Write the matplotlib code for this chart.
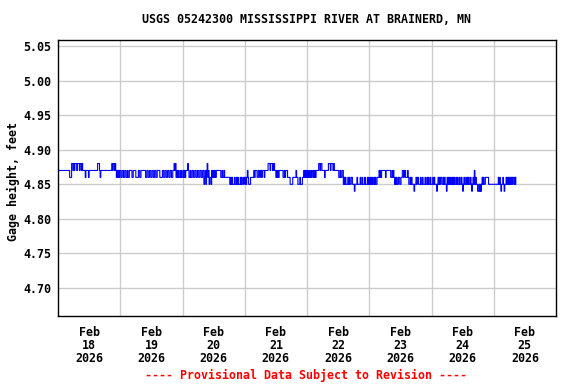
import numpy as np
import matplotlib
matplotlib.use("Agg")
import matplotlib.pyplot as plt

# ---- data: gage height, 15-minute values, hundredths of a foot above 4.80 ----
day1 = ("777777777777777777" "666" "88787888788878878" "7777" "6" "7777" "6"
        "7777777777777" "888" "7" "6" "77777777777777777" "8788787" "676767")
day2 = ("7667766776676677" "7766777766667766" "7777777667766776"
        "6776677667777666" "6776677667766776" "6778786767667676")
day3 = ("676767778" "76676677667766776677667" "756757867566576676"
        "767777777667667" "66666666" "5656555655656555656556" "6")
day4 = ("565676555666" "66767776677677677767777" "788878887887"
        "7676767777776676777" "666655556666" "676655565556676767")
day5 = ("676676" "67767676777" "78878877" "77677777" "888788878" "777777"
        "76676677" "56565" "55656556655" "545" "556555565565556555656")
day6 = ("55656556565566" "6767677777767777777667676" "56565566556"
        "67767766676" "556565554" "55656655565565556556565565")
day7 = ("556565554565656" "6556565546" "5656556565" "6556565565" "5654565565"
        "6565565456" "5" "7" "565544545456565566" "66655555555")
day8 = ("55555556" "565455654556565" "656565665656")

gage_digits = day1 + day2 + day3 + day4 + day5 + day6 + day7 + day8
gage_height = 4.80 + np.array([int(c) for c in gage_digits]) / 100.0
start_time = np.datetime64("2026-02-18T00:00")
times = start_time + np.arange(len(gage_height)) * np.timedelta64(15, "m")

tick_months = ["Feb"] * 8
tick_days = ["18", "19", "20", "21", "22", "23", "24", "25"]
tick_years = ["2026"] * 8
y_ticks = [4.70, 4.75, 4.80, 4.85, 4.90, 4.95, 5.00, 5.05]

title = "USGS 05242300 MISSISSIPPI RIVER AT BRAINERD, MN"
ylabel = "Gage height, feet"
footer = "---- Provisional Data Subject to Revision ----"

# ---- figure ----
FS = 8.4
plt.rcParams["font.family"] = "DejaVu Sans Mono"
plt.rcParams["font.weight"] = "bold"
plt.rcParams["font.size"] = FS

fig = plt.figure(figsize=(5.76, 3.84), dpi=100)
ax = fig.add_axes([58 / 576, 1 - 316 / 384, 498 / 576, 276 / 384])

ax.plot(times, gage_height, color="#0000FF", lw=0.8, drawstyle="steps-post")

ax.set_xlim(np.datetime64("2026-02-18T00:00"), np.datetime64("2026-02-26T00:00"))
ax.set_ylim(4.6595, 5.0587)

noon = np.datetime64("2026-02-18T12:00") + np.arange(8) * np.timedelta64(1, "D")
midnight = np.datetime64("2026-02-19T00:00") + np.arange(7) * np.timedelta64(1, "D")
ax.set_xticks(noon)
ax.set_xticklabels([f"{m}\n{d}\n{y}" for m, d, y in zip(tick_months, tick_days, tick_years)],
                   linespacing=1.02, fontsize=FS, fontweight="bold")
ax.set_xticks(midnight, minor=True)
ax.set_yticks(y_ticks)
ax.set_yticklabels([f"{v:.2f}" for v in y_ticks], fontsize=FS, fontweight="bold")

ax.tick_params(axis="both", which="both", length=0)
ax.tick_params(axis="x", pad=7)
ax.tick_params(axis="y", pad=5)
ax.grid(False)
ax.xaxis.grid(True, which="minor", color="#CCCCCC", lw=1)
ax.yaxis.grid(True, which="major", color="#CCCCCC", lw=1)
ax.set_axisbelow(True)
for s in ax.spines.values():
    s.set_color("black")
    s.set_linewidth(1.0)

ax.set_ylabel(ylabel, va="center", fontsize=FS, fontweight="bold")
ax.yaxis.set_label_coords(-0.0885, 0.487)
ax.set_title(title, pad=12.5, fontsize=FS, fontweight="bold")

fig.text(306 / 576, 1 - 375 / 384, footer, color="#FF0000", ha="center", va="center",
         fontsize=FS, fontweight="bold")

fig.savefig("out.png", dpi=100)
